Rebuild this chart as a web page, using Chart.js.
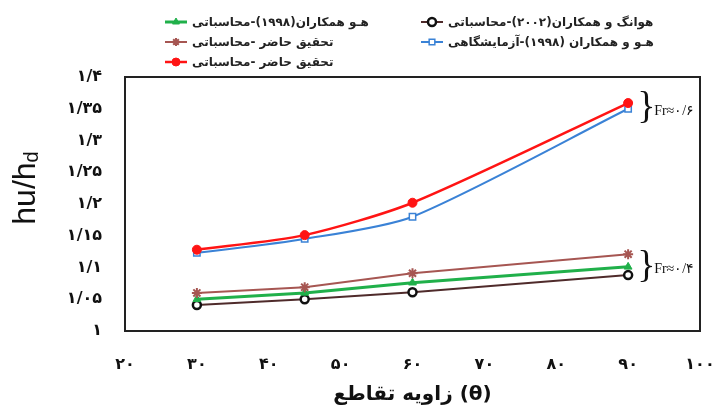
<!DOCTYPE html>
<html>
<head>
<meta charset="utf-8">
<script src="https://cdn.jsdelivr.net/npm/chart.js@4"></script>
<style>
  body { margin: 0; background: #fff; }
  #wrap { width: 719px; height: 419px; }
</style>
</head>
<body>
<div id="wrap"><canvas id="chart" width="719" height="419"></canvas></div>
<script>
const angles = [30, 45, 60, 90];
const presentHigh = [1.128, 1.151, 1.202, 1.359];
const hoLab = [1.123, 1.145, 1.18, 1.35];
const presentLow = [1.06, 1.069, 1.091, 1.121];
const hoCalc = [1.05, 1.06, 1.076, 1.101];
const huangCalc = [1.041, 1.05, 1.061, 1.088];

const seriesNames = {
  presentHigh: 'تحقیق حاضر -محاسباتی',
  hoLab: 'هـو و همکاران (۱۹۹۸)-آزمایشگاهی',
  presentLow: 'تحقیق حاضر -محاسباتی',
  hoCalc: 'هـو همکاران(۱۹۹۸)-محاسباتی',
  huangCalc: 'هوانگ و همکاران(۲۰۰۲)-محاسباتی',
};
const xTickLabels = ['۲۰', '۳۰', '۴۰', '۵۰', '۶۰', '۷۰', '۸۰', '۹۰', '۱۰۰'];
const yTickLabels = ['۱', '۱/۰۵', '۱/۱', '۱/۱۵', '۱/۲', '۱/۲۵', '۱/۳', '۱/۳۵', '۱/۴'];
const xTitle = 'زاویه تقاطع (θ)';
const frLabels = ['Fr≈۰/۶', 'Fr≈۰/۴'];

const toPoints = values => values.map((y, i) => ({ x: angles[i], y }));

const datasets = [
  {
    label: seriesNames.presentHigh, data: toPoints(presentHigh),
    borderColor: '#ff1414', backgroundColor: '#ff1414', borderWidth: 2.5,
    pointStyle: 'circle', pointRadius: 4.5, pointBorderWidth: 1, tension: 0.25,
  },
  {
    label: seriesNames.hoLab, data: toPoints(hoLab),
    borderColor: '#3a82d6', backgroundColor: '#fff', borderWidth: 2,
    pointStyle: 'rect', pointRadius: 4.5, pointBorderWidth: 1.5, tension: 0.25,
  },
  {
    label: seriesNames.presentLow, data: toPoints(presentLow),
    borderColor: '#a65652', backgroundColor: '#a65652', borderWidth: 2,
    pointStyle: 'star', pointRadius: 5, pointBorderWidth: 2, tension: 0,
  },
  {
    label: seriesNames.hoCalc, data: toPoints(hoCalc),
    borderColor: '#20b04a', backgroundColor: '#20b04a', borderWidth: 3,
    pointStyle: 'triangle', pointRadius: 4.5, pointBorderWidth: 1, tension: 0,
  },
  {
    label: seriesNames.huangCalc, data: toPoints(huangCalc),
    borderColor: '#4f2b2b', backgroundColor: '#fff', borderWidth: 2,
    pointStyle: 'circle', pointRadius: 4, pointBorderWidth: 2.5, pointBorderColor: '#111', tension: 0,
  },
];

// legend slots: [dataset index, marker x, row y]
const legendSlots = [
  [3, 176, 22], [2, 176, 42], [0, 176, 62],
  [4, 432, 22], [1, 432, 42],
];

const frame = {
  id: 'frame',
  afterDatasetsDraw(chart) {
    const { ctx, chartArea: a } = chart;
    ctx.save();
    ctx.strokeStyle = '#222';
    ctx.lineWidth = 2;
    ctx.strokeRect(a.left, a.top, a.right - a.left, a.bottom - a.top);
    ctx.restore();
  },
};

const extras = {
  id: 'extras',
  afterDraw(chart) {
    const { ctx } = chart;
    const xs = chart.scales.x, ys = chart.scales.y;
    ctx.save();

    // column legend
    ctx.font = 'bold 12px "DejaVu Sans", sans-serif';
    ctx.textBaseline = 'middle';
    ctx.textAlign = 'left';
    for (const [di, mx, my] of legendSlots) {
      const ds = chart.data.datasets[di];
      ctx.strokeStyle = ds.borderColor;
      ctx.lineWidth = ds.borderWidth;
      ctx.beginPath();
      ctx.moveTo(mx - 11, my);
      ctx.lineTo(mx + 11, my);
      ctx.stroke();
      ctx.fillStyle = ds.backgroundColor;
      ctx.strokeStyle = ds.pointBorderColor || ds.borderColor;
      ctx.lineWidth = ds.pointBorderWidth;
      Chart.helpers.drawPoint(ctx, { pointStyle: ds.pointStyle, radius: 4, borderWidth: ds.pointBorderWidth, rotation: 0 }, mx, my);
      ctx.fillStyle = '#222';
      ctx.fillText(ds.label, mx + 16, my + 1);
    }

    // Froude braces
    const groups = [[presentHigh, hoLab], [presentLow, huangCalc]];
    const last = angles.length - 1;
    const bx = xs.getPixelForValue(angles[last]) + 9;
    ctx.direction = 'ltr';
    groups.forEach((g, i) => {
      const y1 = ys.getPixelForValue(g[0][last]);
      const y2 = ys.getPixelForValue(g[1][last]);
      const cy = (y1 + y2) / 2 + 2;
      ctx.fillStyle = '#111';
      ctx.font = '38px "Liberation Serif", serif';
      ctx.textBaseline = 'middle';
      ctx.fillText('}', bx, cy);
      ctx.font = '14px "Liberation Serif", "DejaVu Serif", serif';
      ctx.fillText(frLabels[i], bx + 17, cy + 3);
    });

    // y title with subscript
    ctx.translate(35, 188);
    ctx.rotate(-Math.PI / 2);
    ctx.fillStyle = '#111';
    ctx.textBaseline = 'alphabetic';
    ctx.font = '32px "Liberation Sans", Arial, sans-serif';
    const main = 'hu/h';
    const w1 = ctx.measureText(main).width;
    ctx.font = '20px "Liberation Sans", Arial, sans-serif';
    const w2 = ctx.measureText('d').width;
    const start = -(w1 + w2) / 2;
    ctx.font = '32px "Liberation Sans", Arial, sans-serif';
    ctx.fillText(main, start, 0);
    ctx.font = '20px "Liberation Sans", Arial, sans-serif';
    ctx.fillText('d', start + w1, 3);
    ctx.restore();
  },
};

new Chart(document.getElementById('chart'), {
  type: 'line',
  data: { datasets },
  plugins: [frame, extras],
  options: {
    responsive: false,
    animation: false,
    layout: { padding: { top: 77, right: 19, bottom: 0, left: 0 } },
    plugins: { legend: { display: false }, tooltip: { enabled: false } },
    scales: {
      x: {
        type: 'linear', min: 20, max: 100,
        afterFit: s => { s.height = 88; s.paddingLeft = 0; s.paddingRight = 0; },
        grid: { display: false, drawTicks: false },
        border: { display: false },
        ticks: {
          stepSize: 10, padding: 24, color: '#111',
          font: { size: 16, weight: 'bold', family: '"DejaVu Sans", sans-serif' },
          callback: (v, i) => xTickLabels[i],
        },
        title: {
          display: true, text: xTitle, color: '#111',
          font: { size: 20, weight: 'bold', family: '"DejaVu Sans", sans-serif' },
          padding: { top: 0, bottom: 12 },
        },
      },
      y: {
        min: 1, max: 1.4,
        afterFit: s => { s.width = 125; s.paddingTop = 0; s.paddingBottom = 0; },
        grid: { display: false, drawTicks: false },
        border: { display: false },
        ticks: {
          stepSize: 0.05, padding: 23, color: '#111',
          font: { size: 16, weight: 'bold', family: '"DejaVu Sans", sans-serif' },
          callback: (v, i) => yTickLabels[i],
        },
      },
    },
  },
});
</script>
</body>
</html>
